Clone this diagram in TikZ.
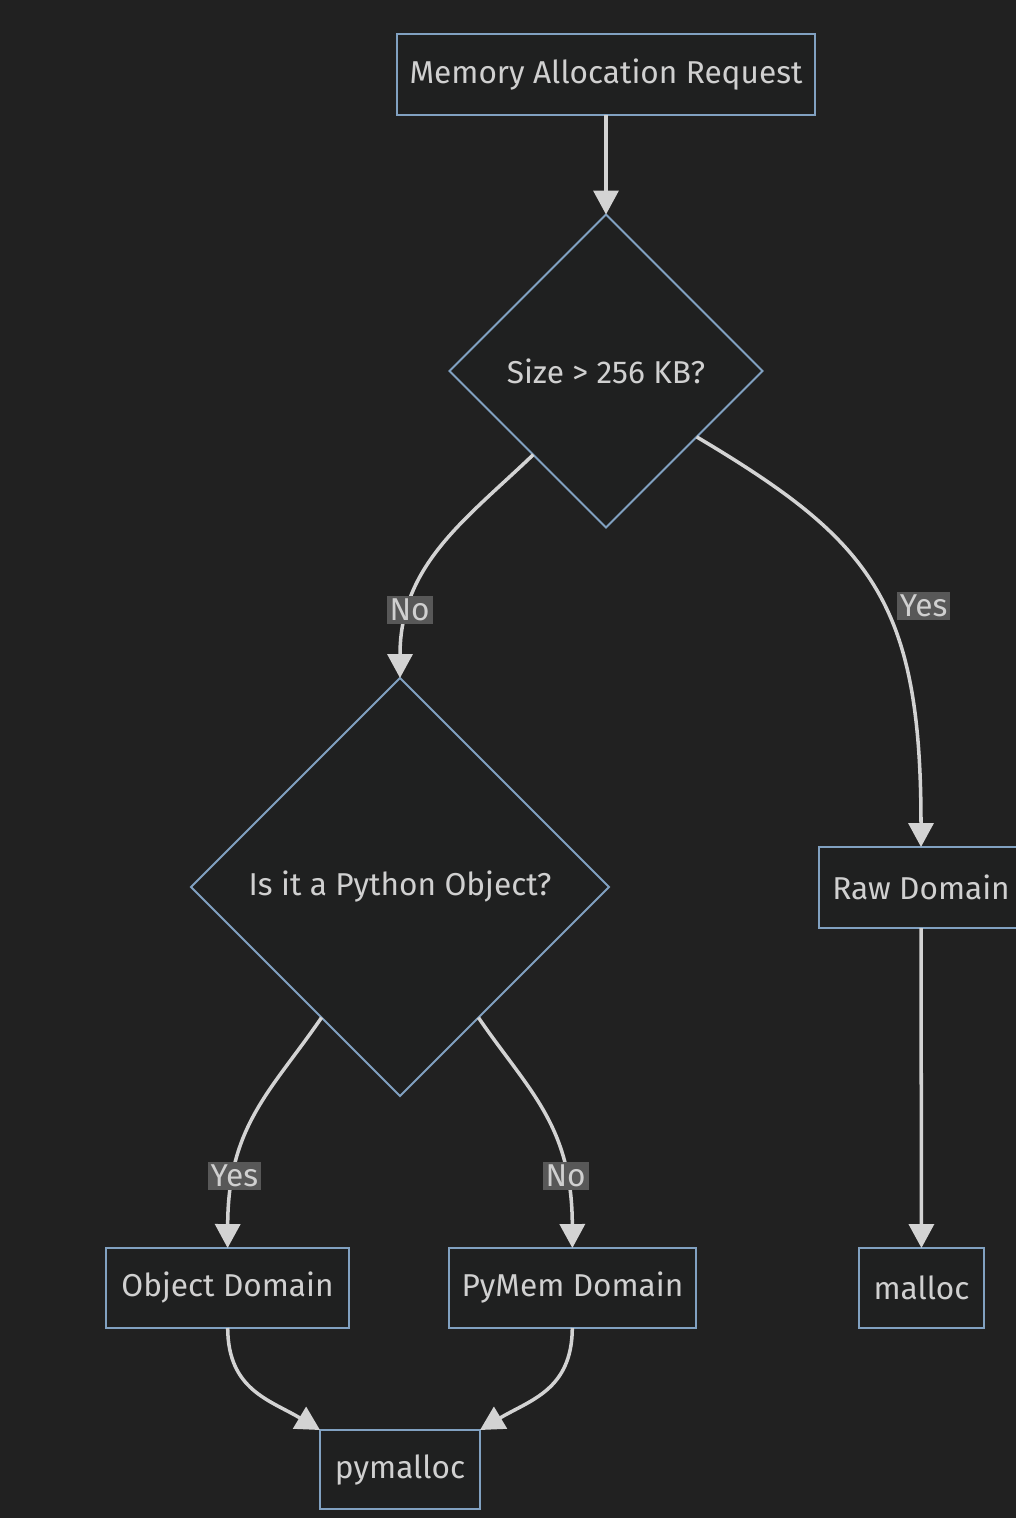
\documentclass[tikz,border=0pt]{standalone}
\usepackage{fontspec}
\setmainfont{Fira Sans}
\usepackage{xcolor}
\usepackage{tikz}
\usetikzlibrary{shapes.geometric,arrows.meta}
\definecolor{bgdark}{HTML}{212121}
\definecolor{nodefill}{HTML}{1F2020}
\definecolor{nodeline}{HTML}{81A1C1}
\definecolor{nodetext}{HTML}{D0D0D0}
\definecolor{edgecol}{HTML}{D3D3D3}
\definecolor{lblfill}{HTML}{585858}

\begin{document}
\begin{tikzpicture}[x=0.02cm, y=-0.02cm,
        every node/.style={font=\fontsize{18}{21}\selectfont, text=nodetext},
        box/.style={draw=nodeline, fill=nodefill, line width=1.1pt, minimum height=1.62cm, inner sep=0, outer sep=0},
        decision/.style={diamond, aspect=1, draw=nodeline, fill=nodefill, line width=1.1pt, inner sep=0, outer sep=0},
        flow/.style={draw=edgecol, line width=2pt, -{Triangle[length=0.48cm,width=0.5cm]}},
        lbl/.style={fill=lblfill, inner sep=0.06cm}]
        \useasboundingbox (0,0) rectangle (1016,1518);
        \fill[bgdark] (0,0) rectangle (1016,1518);

        \node[box, minimum width=8.36cm] (req) at (606,74.5) {Memory Allocation Request};
        \node[decision, minimum width=6.26cm, minimum height=6.26cm] (size) at (606,371) {Size > 256 KB?};
        \node[decision, minimum width=8.36cm, minimum height=8.36cm] (pyobj) at (400,887) {Is it a Python Object?};
        \node[box, minimum width=4.08cm] (raw) at (921,887.5) {Raw Domain};
        \node[box, minimum width=4.86cm, minimum height=1.6cm] (objdom) at (227.5,1288) {Object Domain};
        \node[box, minimum width=4.94cm, minimum height=1.6cm] (pymem) at (572.5,1288) {PyMem Domain};
        \node[box, minimum width=2.5cm, minimum height=1.6cm] (malloc) at (921.5,1288) {malloc};
        \node[box, minimum width=3.2cm, minimum height=1.58cm] (pymalloc) at (400,1469.5) {pymalloc};

        \draw[flow] (req) -- (size);
        \draw[flow] (size.-131) .. controls (465,520) and (400,565) .. (pyobj) node[lbl, pos=0.77] {No};
        \draw[flow] (size.-36) .. controls (870,540) and (921,600) .. (raw) node[lbl, pos=0.55, xshift=0.8cm] {Yes};
        \draw[flow] (pyobj.-121) .. controls (272,1090) and (228,1125) .. (objdom) node[lbl, pos=0.77] {Yes};
        \draw[flow] (pyobj.-59) .. controls (528,1090) and (572,1125) .. (pymem) node[lbl, pos=0.77] {No};
        \draw[flow] (raw) -- (malloc);
        \draw[flow] (objdom) .. controls (228,1390) and (270,1400) .. (pymalloc.north west);
        \draw[flow] (pymem) .. controls (572,1390) and (530,1400) .. (pymalloc.north east);
    \end{tikzpicture}
\end{document}
